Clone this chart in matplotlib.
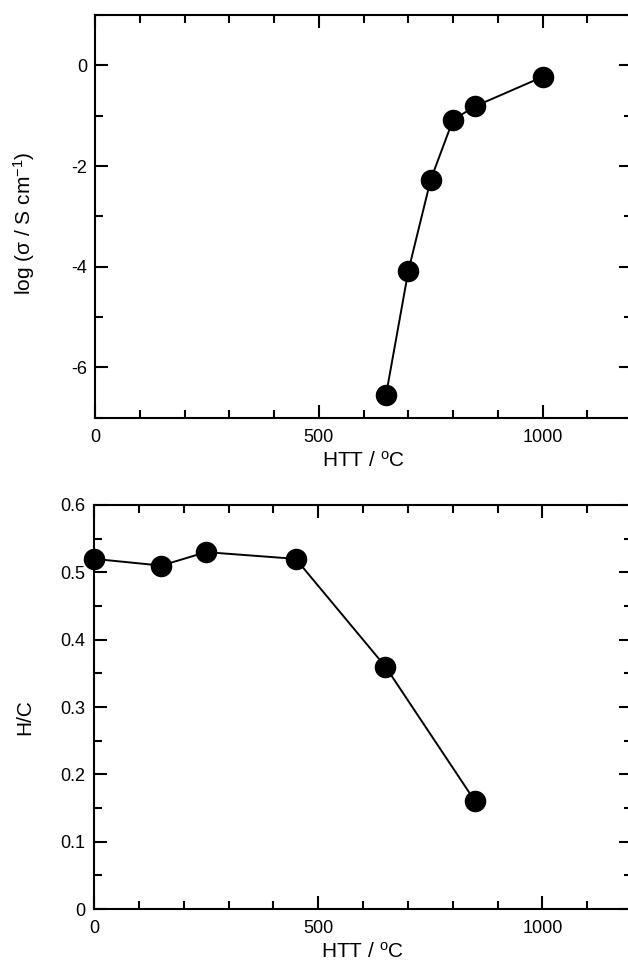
import matplotlib
matplotlib.use("Agg")
import matplotlib.pyplot as plt
from matplotlib.ticker import MultipleLocator

plt.rcParams["font.family"] = ["Liberation Sans", "DejaVu Sans"]
plt.rcParams["mathtext.fontset"] = "custom"
plt.rcParams["mathtext.rm"] = "Liberation Sans"
plt.rcParams["mathtext.default"] = "regular"
plt.rcParams["axes.unicode_minus"] = False

# conductivity vs heat-treatment temperature
htt_sigma = [650, 700, 750, 800, 850, 1000]
log_sigma = [-6.55, -4.08, -2.27, -1.08, -0.81, -0.23]

# hydrogen/carbon ratio vs heat-treatment temperature
htt_hc = [0, 150, 250, 450, 650, 850]
hc_ratio = [0.52, 0.51, 0.53, 0.52, 0.36, 0.16]

W, H = 628, 964
fig = plt.figure(figsize=(W / 100, H / 100), dpi=100)


def frac(left, top, right, bottom):
    return [left / W, 1 - bottom / H, (right - left) / W, (bottom - top) / H]


def style(ax):
    for s in ax.spines.values():
        s.set_linewidth(1.5)
    ax.tick_params(which="both", direction="in", top=True, right=True,
                   width=1.5, labelsize=13, colors="black")
    ax.tick_params(which="major", length=9.5)
    ax.tick_params(which="minor", length=5.5)
    ax.tick_params(axis="x", pad=8)
    ax.tick_params(axis="y", pad=6)
    ax.xaxis.set_major_locator(MultipleLocator(500))
    ax.xaxis.set_minor_locator(MultipleLocator(100))
    ax.set_xlim(0, 1200)


ax1 = fig.add_axes(frac(95.3, 15, 632, 417.7))
ax1.plot(htt_sigma, log_sigma, color="black", lw=1.4, marker="o",
         ms=14.5, mfc="black", mec="black", clip_on=False)
style(ax1)
ax1.set_ylim(-7, 1)
ax1.yaxis.set_major_locator(MultipleLocator(2))
ax1.yaxis.set_minor_locator(MultipleLocator(1))
ax1.set_xlabel("HTT / $^{o}$C", fontsize=15)
ax1.set_ylabel("log (σ / S cm$^{-1}$)", fontsize=15)
ax1.xaxis.set_label_coords(0.5, -33 / 402.7)
ax1.yaxis.set_label_coords(-58 / 536.7, 0.483)

ax2 = fig.add_axes(frac(94, 505, 632, 909))
ax2.plot(htt_hc, hc_ratio, color="black", lw=1.4, marker="o",
         ms=14.5, mfc="black", mec="black", clip_on=False)
style(ax2)
ax2.set_ylim(0, 0.6)
ax2.yaxis.set_major_locator(MultipleLocator(0.1))
ax2.yaxis.set_minor_locator(MultipleLocator(0.05))
ax2.yaxis.set_major_formatter(lambda v, pos: "0" if abs(v) < 1e-9 else f"{v:.1f}")
ax2.set_xlabel("HTT / $^{o}$C", fontsize=15)
ax2.set_ylabel("H/C", fontsize=15)
ax2.xaxis.set_label_coords(0.5, -33 / 404)
ax2.yaxis.set_label_coords(-60 / 538, 0.474)

fig.savefig("out.png", dpi=100)
